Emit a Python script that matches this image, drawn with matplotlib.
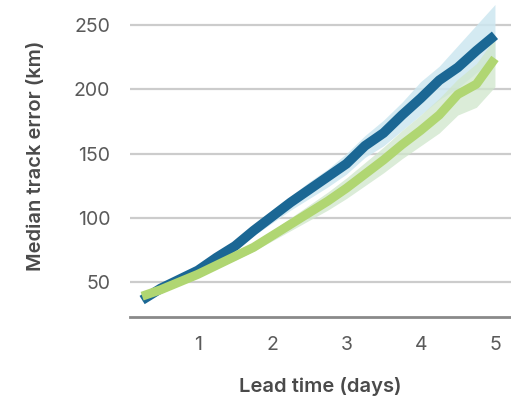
import numpy as np
import matplotlib
matplotlib.use("Agg")
import matplotlib.pyplot as plt

plt.rcParams['font.family'] = ['Inter', 'DejaVu Sans']

# lead time in days (6-hourly)
lead = [0.25, 0.5, 0.75, 1.0, 1.25, 1.5, 1.75, 2.0, 2.25, 2.5,
        2.75, 3.0, 3.25, 3.5, 3.75, 4.0, 4.25, 4.5, 4.75, 5.0]

# median track error (km), first model
blue_med = [36, 45, 52, 59, 69, 78, 90, 101, 112, 122,
            132, 142, 156, 166, 180, 193, 207, 217, 230, 242]
blue_lo = [35, 43, 50, 57, 66, 75, 86, 96, 106, 115,
           124, 134, 147, 156, 168, 180, 192, 201, 213, 222]
blue_hi = [37, 47, 54, 62, 72, 82, 94, 106, 117, 128,
           138, 150, 164, 176, 190, 206, 218, 234, 250, 266]

# median track error (km), second model
green_med = [39, 44, 50, 56, 63, 70, 77, 86, 95, 104,
             113, 123, 134, 145, 157, 168, 180, 196, 204, 224]
green_lo = [38, 43, 49, 54, 61, 67, 74, 82, 90, 98,
            106, 115, 125, 135, 146, 156, 166, 180, 186, 202]
green_hi = [40, 45, 52, 58, 66, 73, 81, 90, 100, 110,
            120, 131, 143, 155, 168, 180, 193, 208, 220, 240]

yticks = [50, 100, 150, 200, 250]
xticks = [1, 2, 3, 4, 5]

fig = plt.figure(figsize=(5.11, 4.01), dpi=100)
ax = fig.add_axes([0.254, 0.2095, 0.746, 0.7905])

ax.fill_between(lead, blue_lo, blue_hi, color='#cde7f0', alpha=0.85, lw=0, zorder=2)
ax.fill_between(lead, green_lo, green_hi, color='#cfe6cb', alpha=0.75, lw=0, zorder=3)
ax.plot(lead, blue_med, color='#1b6794', lw=7, solid_capstyle='butt', zorder=4)
ax.plot(lead, green_med, color='#b0d672', lw=6.5, solid_capstyle='butt', zorder=5)

ax.set_xlim(0.084, 5.216)
ax.set_ylim(22.8, 269.5)
ax.set_yticks(yticks)
ax.set_xticks(xticks)
ax.grid(axis='y', color='#cccccc', lw=1.6, zorder=0)
ax.set_axisbelow(True)

for s in ['top', 'right', 'left']:
    ax.spines[s].set_visible(False)
ax.spines['bottom'].set_color('#8a8a8a')
ax.spines['bottom'].set_linewidth(2)

ax.tick_params(axis='both', length=0, labelsize=14, colors='#5a5a5a')
ax.tick_params(axis='y', pad=14)
ax.tick_params(axis='x', pad=14)

ax.set_xlabel('Lead time (days)', fontsize=14.5, fontweight='semibold',
              color='#4a4a4a')
ax.set_ylabel('Median track error (km)', fontsize=14.5, fontweight='semibold',
              color='#4a4a4a', va='center')
ax.xaxis.set_label_coords(0.5, -0.19)
ax.yaxis.set_label_coords(-0.246, 0.51)

fig.savefig('out.png', dpi=100)
